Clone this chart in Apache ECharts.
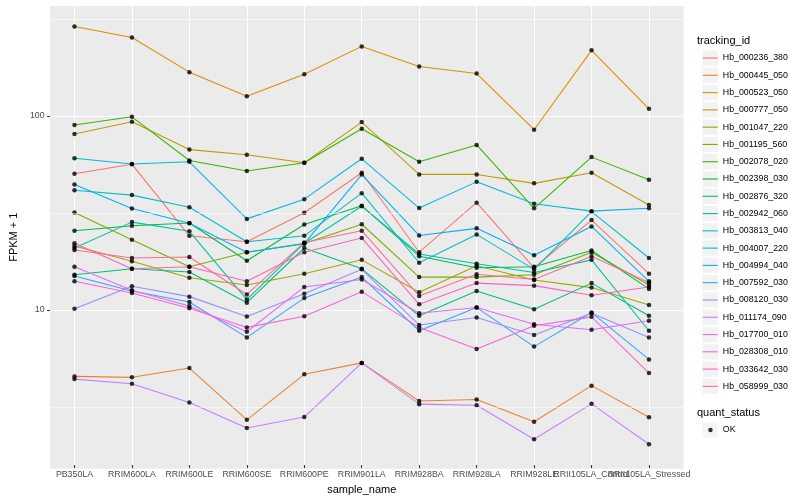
<!DOCTYPE html>
<html>
<head>
<meta charset="utf-8">
<script src="https://cdn.jsdelivr.net/npm/echarts@6/dist/echarts.min.js"></script>
<style>html,body{margin:0;padding:0;background:#fff}#chart{width:800px;height:500px}</style>
</head>
<body>
<div id="chart"></div>
<script>
// ---------------- data ----------------
const categories = ['PB350LA','RRIM600LA','RRIM600LE','RRIM600SE','RRIM600PE','RRIM901LA','RRIM928BA','RRIM928LA','RRIM928LE','RRII105LA_Control','RRII105LA_Stressed'];
const trackingIds = ['Hb_000236_380','Hb_000445_050','Hb_000523_050','Hb_000777_050','Hb_001047_220','Hb_001195_560','Hb_002078_020','Hb_002398_030','Hb_002876_320','Hb_002942_060','Hb_003813_040','Hb_004007_220','Hb_004994_040','Hb_007592_030','Hb_008120_030','Hb_011174_090','Hb_017700_010','Hb_028308_010','Hb_033642_030','Hb_058999_030'];
const Hb_000236_380 = [49.6, 55.6, 23.6, 22.0, 31.1, 50.2, 19.4, 35.1, 16.1, 28.5, 15.0];
const Hb_000445_050 = [4.39, 4.34, 4.85, 2.61, 4.50, 5.16, 3.27, 3.33, 2.55, 3.93, 2.69];
const Hb_000523_050 = [288.6, 253.3, 167.2, 125.3, 163.2, 227.6, 178.9, 164.5, 84.0, 217.1, 107.8];
const Hb_000777_050 = [79.8, 92.4, 66.2, 62.2, 56.6, 92.0, 49.2, 49.2, 44.2, 50.2, 34.1];
const Hb_001047_220 = [20.9, 17.4, 14.3, 13.1, 15.0, 17.7, 12.0, 16.5, 13.9, 12.7, 10.3];
const Hb_001195_560 = [31.2, 22.5, 16.3, 19.4, 21.5, 27.1, 14.4, 14.4, 14.8, 19.4, 13.1];
const Hb_002078_020 = [88.8, 98.0, 58.1, 51.3, 56.6, 85.0, 57.3, 70.0, 32.8, 60.5, 46.2];
const Hb_002398_030 = [25.1, 26.6, 27.5, 17.5, 27.0, 33.8, 18.5, 16.1, 16.3, 19.8, 12.5];
const Hb_002876_320 = [14.8, 15.9, 15.3, 10.6, 20.4, 15.9, 9.06, 12.2, 9.80, 13.4, 9.06];
const Hb_002942_060 = [20.4, 27.8, 24.9, 11.0, 21.6, 33.6, 19.0, 16.9, 15.2, 17.7, 7.58];
const Hb_003813_040 = [40.7, 38.4, 33.2, 22.0, 23.6, 39.3, 17.1, 24.0, 15.8, 31.5, 18.1];
const Hb_004007_220 = [59.7, 55.7, 57.2, 28.9, 36.6, 59.3, 32.9, 45.0, 34.6, 31.7, 32.8];
const Hb_004994_040 = [43.6, 32.7, 27.4, 19.4, 21.5, 49.1, 23.7, 25.8, 18.7, 26.4, 13.7];
const Hb_007592_030 = [14.6, 12.2, 10.7, 7.00, 11.2, 14.4, 7.58, 10.0, 6.27, 9.42, 5.38];
const Hb_008120_030 = [9.85, 12.9, 11.4, 8.99, 11.8, 15.8, 8.11, 8.88, 7.20, 9.35, 7.00];
const Hb_011174_090 = [4.25, 4.02, 3.21, 2.37, 2.70, 5.16, 3.15, 3.11, 2.07, 3.16, 1.95];
const Hb_017700_010 = [16.3, 12.3, 10.2, 7.49, 12.8, 14.0, 9.35, 10.0, 8.20, 7.67, 8.54];
const Hb_028308_010 = [13.7, 11.9, 9.92, 7.89, 9.02, 12.1, 7.89, 6.10, 8.05, 8.95, 4.57];
const Hb_033642_030 = [21.6, 15.9, 16.3, 13.7, 19.4, 23.0, 10.4, 13.4, 13.0, 11.6, 12.8];
const Hb_058999_030 = [19.9, 18.1, 18.3, 11.7, 21.8, 25.1, 11.5, 14.9, 14.0, 18.5, 13.5];
const seriesValues = [Hb_000236_380, Hb_000445_050, Hb_000523_050, Hb_000777_050, Hb_001047_220, Hb_001195_560, Hb_002078_020, Hb_002398_030, Hb_002876_320, Hb_002942_060, Hb_003813_040, Hb_004007_220, Hb_004994_040, Hb_007592_030, Hb_008120_030, Hb_011174_090, Hb_017700_010, Hb_028308_010, Hb_033642_030, Hb_058999_030];
const quantStatus = ['OK'];
const yTickLabels = [10, 100];
const yMinorBreaks = [Math.sqrt(10), Math.sqrt(1000), Math.sqrt(100000)];

// ---------------- ggplot-like hue palette ----------------
function hcl(h, c, l) {
  const hr = h * Math.PI / 180;
  const U = c * Math.cos(hr), V = c * Math.sin(hr);
  const Xn = 95.047, Yn = 100, Zn = 108.883;
  const Y = l > 8 ? Yn * Math.pow((l + 16) / 116, 3) : Yn * l / 903.3;
  const den = Xn + 15 * Yn + 3 * Zn;
  const un = 4 * Xn / den, vn = 9 * Yn / den;
  const u = U / (13 * l) + un, v = V / (13 * l) + vn;
  const X = 9 * Y * u / (4 * v);
  const Z = 3 * Y / v - X / 3 - 5 * Y;
  const x = X / 100, y = Y / 100, z = Z / 100;
  const r = 3.240479 * x - 1.537150 * y - 0.498535 * z;
  const g = -0.969256 * x + 1.875992 * y + 0.041556 * z;
  const b = 0.055648 * x - 0.204043 * y + 1.057311 * z;
  const gam = t => t <= 0.0031308 ? 12.92 * t : 1.055 * Math.pow(t, 1 / 2.4) - 0.055;
  const to = t => Math.round(Math.max(0, Math.min(1, gam(t))) * 255).toString(16).padStart(2, '0');
  return '#' + to(r) + to(g) + to(b);
}
const n = trackingIds.length;
const colors = trackingIds.map((_, i) => hcl(15 + i * 360 / n, 100, 65));

// ---------------- scale range (ggplot 5% expansion on log scale) ----------------
const allVals = seriesValues.flat();
const lmin = Math.log10(Math.min(...allVals)), lmax = Math.log10(Math.max(...allVals));
const pad = (lmax - lmin) * 0.05;
const yMin = Math.pow(10, lmin - pad), yMax = Math.pow(10, lmax + pad);

const FONT = 'Liberation Sans';
const GRID_TOP = 5.65, GRID_BOTTOM = 31.2;

const lineSeries = trackingIds.map((id, i) => ({
  name: id, type: 'line', xAxisIndex: 1, yAxisIndex: 1,
  data: seriesValues[i], showSymbol: false, symbol: 'none', silent: true, z: 2,
  lineStyle: { width: 1.07, color: colors[i] }, itemStyle: { color: colors[i] }
}));

const pointData = [];
seriesValues.forEach(vals => vals.forEach((v, j) => pointData.push([j, v])));

const legendBase = {
  orient: 'vertical', left: 697.5, itemGap: 0, selectedMode: false,
  textStyle: { fontFamily: FONT, fontSize: 8.8, color: '#000', lineHeight: 17.28 }
};

const option = {
  animation: false,
  backgroundColor: '#ffffff',
  textStyle: { fontFamily: FONT },
  title: [
    { text: 'tracking_id', left: 697, top: 35.7, padding: 0,
      textStyle: { fontFamily: FONT, fontSize: 11, fontWeight: 'normal', color: '#000' } },
    { text: 'quant_status', left: 697, top: 407.5, padding: 0,
      textStyle: { fontFamily: FONT, fontSize: 11, fontWeight: 'normal', color: '#000' } }
  ],
  legend: [
    Object.assign({}, legendBase, { top: 44.4, data: trackingIds, icon: 'rect', itemWidth: 15.3, itemHeight: 15.3,
      itemStyle: { color: '#F2F2F2', borderWidth: 0 } }),
    Object.assign({}, legendBase, { top: 44.4, data: trackingIds, icon: 'rect', itemWidth: 15.3, itemHeight: 1.1,
      itemStyle: { borderWidth: 0 }, textStyle: Object.assign({}, legendBase.textStyle, { color: 'rgba(0,0,0,0)' }) }),
    Object.assign({}, legendBase, { top: 416.4, data: quantStatus, icon: 'rect', itemWidth: 15.3, itemHeight: 15.3,
      itemStyle: { color: '#F2F2F2', borderWidth: 0 } }),
    Object.assign({}, legendBase, { top: 416.4, left: 703.2, data: quantStatus, icon: 'circle', itemWidth: 4.5, itemHeight: 4.5,
      itemStyle: { borderWidth: 0 }, textStyle: Object.assign({}, legendBase.textStyle, { color: 'rgba(0,0,0,0)' }) })
  ],
  grid: [
    { left: 40, right: 116.5, top: GRID_TOP, bottom: GRID_BOTTOM, show: true, backgroundColor: '#EBEBEB', borderWidth: 0 },
    { left: 74.47, right: 151, top: GRID_TOP, bottom: GRID_BOTTOM, show: false }
  ],
  xAxis: [
    { gridIndex: 0, type: 'value', show: false, min: 0, max: 1 },
    { gridIndex: 1, type: 'category', data: categories, boundaryGap: false,
      axisLine: { show: false },
      axisTick: { show: true, length: 3, lineStyle: { color: '#333333', width: 1.07 } },
      axisLabel: { interval: 0, fontSize: 8.8, color: '#4D4D4D', margin: 5, fontFamily: FONT },
      splitLine: { show: true, lineStyle: { color: '#ffffff', width: 1.07 } },
      name: 'sample_name', nameLocation: 'middle', nameGap: 15,
      nameTextStyle: { fontSize: 11, color: '#000', fontFamily: FONT } }
  ],
  yAxis: [
    { gridIndex: 0, type: 'log', logBase: 10, min: yMin, max: yMax,
      axisLine: { show: false },
      axisTick: { show: true, length: 3, lineStyle: { color: '#333333', width: 1.07 } },
      axisLabel: { showMinLabel: false, showMaxLabel: false, fontSize: 8.8, color: '#4D4D4D', margin: 5.5, fontFamily: FONT,
        formatter: v => (yTickLabels.indexOf(Math.round(v)) >= 0 ? String(Math.round(v)) : '') },
      splitLine: { show: true, lineStyle: { color: '#ffffff', width: 1.07 } },
      name: 'FPKM + 1', nameLocation: 'middle', nameGap: 22, nameRotate: 90,
      nameTextStyle: { fontSize: 11, color: '#000', fontFamily: FONT } },
    { gridIndex: 1, type: 'log', logBase: 10, min: yMin, max: yMax, show: false }
  ],
  series: [
    { name: '_grid', type: 'line', xAxisIndex: 0, yAxisIndex: 0, data: [], z: 1, silent: true,
      markLine: { silent: true, symbol: 'none', animation: false, label: { show: false },
        lineStyle: { color: '#ffffff', width: 0.55, type: 'solid' },
        data: yMinorBreaks.map(v => ({ yAxis: v })) } }
  ].concat(lineSeries).concat([
    { name: 'OK', type: 'scatter', xAxisIndex: 1, yAxisIndex: 1, data: pointData, symbol: 'circle', symbolSize: 4.5,
      itemStyle: { color: '#000000' }, z: 3, silent: true }
  ])
};

const chart = echarts.init(document.getElementById('chart'), null, { renderer: 'canvas' });
chart.setOption(option);
</script>
</body>
</html>
